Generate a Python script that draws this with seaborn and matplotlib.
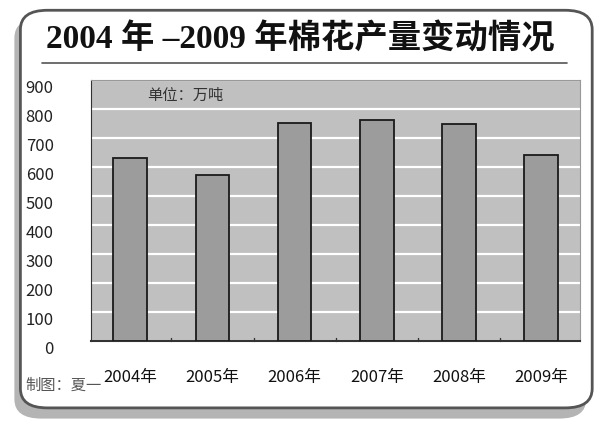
import matplotlib
matplotlib.use("Agg")
import matplotlib.pyplot as plt
import matplotlib.transforms as mtransforms
from matplotlib.patches import FancyBboxPatch
import seaborn as sns
import pandas as pd

years = ["2004年", "2005年", "2006年", "2007年", "2008年", "2009年"]
output = [632, 571, 753, 762, 749, 640]
yticks = [0, 100, 200, 300, 400, 500, 600, 700, 800, 900]

sns.set_style("white")
plt.rcParams["font.family"] = ["Noto Sans CJK SC", "DejaVu Sans"]
SERIF = ["Liberation Serif", "Noto Sans CJK SC"]

df = pd.DataFrame({"year": years, "output": output})

fig = plt.figure(figsize=(6, 4.28), dpi=100)

# rounded frame, shadow falls to the lower left
shadow = FancyBboxPatch((0.024, 0.022), 0.953, 0.935, boxstyle="round,pad=0,rounding_size=0.045",
                        transform=fig.transFigure, facecolor="#b4b4b4", edgecolor="none", zorder=0)
frame = FancyBboxPatch((0.034, 0.047), 0.953, 0.929, boxstyle="round,pad=0,rounding_size=0.045",
                       transform=fig.transFigure, facecolor="white", edgecolor="#555555", lw=2.0, zorder=1)
fig.patches.extend([shadow, frame])

fig.text(0.5, 0.908, "2004 年 –2009 年棉花产量变动情况", ha="center", va="center",
         fontsize=24, fontweight="bold", color="#111111", family=SERIF, zorder=3)
fig.add_artist(plt.Line2D([0.07, 0.945], [0.852, 0.852], transform=fig.transFigure,
                          color="#555555", lw=1.2, zorder=3))

ax = fig.add_axes([0.152, 0.203, 0.815, 0.61], zorder=2)
ax.set_facecolor("#c0c0c0")
sns.barplot(data=df, x="year", y="output", ax=ax, color="#9c9c9c",
            edgecolor="#1a1a1a", linewidth=1.3, width=0.41, saturation=1, zorder=3)

ax.set_ylim(0, 900)
ax.set_yticks(yticks)
ax.set_yticklabels([str(v) for v in yticks], fontsize=12, color="#222222")
ax.tick_params(axis="y", length=4, width=1, color="#333333", pad=23)
offset = mtransforms.ScaledTranslation(0, -6 / 100, fig.dpi_scale_trans)
for lab in ax.get_yticklabels():
    lab.set_transform(lab.get_transform() + offset)
ax.yaxis.grid(True, color="white", lw=1.6, zorder=1)
ax.set_axisbelow(True)
ax.set_xlabel("")
ax.set_ylabel("")
ax.set_xticks(range(len(years)))
ax.set_xticklabels(years, fontsize=12, color="#111111")
ax.tick_params(axis="x", length=0, pad=20)
for s in ["top", "right"]:
    ax.spines[s].set_color("#999999")
    ax.spines[s].set_linewidth(0.8)
ax.spines["left"].set_color("#333333")
ax.spines["bottom"].set_color("#333333")
ax.spines["bottom"].set_linewidth(1.5)
for x in [0.5, 1.5, 2.5, 3.5, 4.5]:
    ax.plot([x, x], [0, 12], color="#333333", lw=1, zorder=4, clip_on=False)

ax.text(0.115, 0.965, "单位：万吨", transform=ax.transAxes, ha="left", va="top",
        fontsize=11, color="#333333", family=SERIF)
fig.text(0.042, 0.1, "制图：夏一", ha="left", va="center", fontsize=11, color="#555555", zorder=3)

fig.savefig("out.png", dpi=100)
